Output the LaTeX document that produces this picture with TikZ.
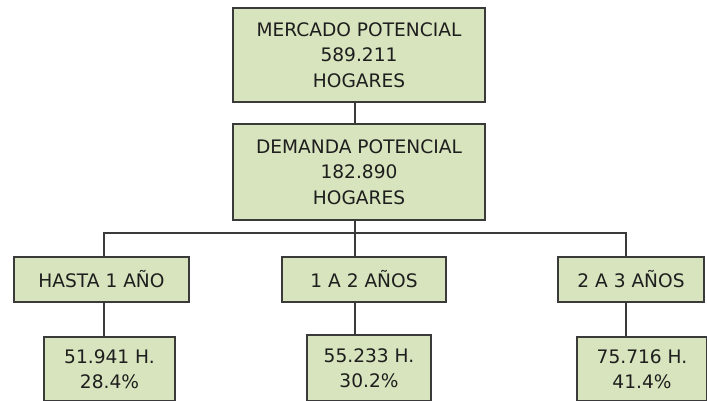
\documentclass[tikz,border=0pt]{standalone}
\usepackage{fontspec}
\setmainfont{DejaVu Sans}
\definecolor{boxfill}{HTML}{D7E4BD}
\definecolor{boxline}{HTML}{3A3A3A}
\definecolor{txt}{HTML}{1E1E1E}
\begin{document}
\begin{tikzpicture}[x=1pt,y=-1pt,
  box/.style={draw=boxline,line width=1.4pt,fill=boxfill,rectangle,inner sep=0pt,
    text=txt,align=center,font=\fontsize{18.6}{25.5}\selectfont},
  conn/.style={draw=boxline,line width=1.2pt}]
\useasboundingbox (0,0) rectangle (707,400);
\clip (0,0) rectangle (707,400);
\node[box,minimum width=252pt,minimum height=94pt] (top) at (359,55) {MERCADO POTENCIAL\\589.211\\HOGARES};
\node[box,minimum width=252pt,minimum height=96pt] (dem) at (359,172) {DEMANDA POTENCIAL\\182.890\\HOGARES};
\node[box,minimum width=175pt,minimum height=45pt] (h1) at (101.5,279.5) {HASTA 1 AÑO};
\node[box,minimum width=164pt,minimum height=45pt] (h2) at (364,279.5) {1 A 2 AÑOS};
\node[box,minimum width=146pt,minimum height=45pt] (h3) at (631,279.5) {2 A 3 AÑOS};
\node[box,minimum width=131pt,minimum height=64pt] (r1) at (109.5,369) {51.941 H.\\28.4\%};
\node[box,minimum width=124pt,minimum height=66pt] (r2) at (369,368) {55.233 H.\\30.2\%};
\node[box,minimum width=130pt,minimum height=64pt] (r3) at (642,369) {75.716 H.\\41.4\%};
\coordinate (b1) at (104,233);
\coordinate (b2) at (355,233);
\coordinate (b3) at (626,233);
\draw[conn] (b2 |- top.south) -- (b2 |- dem.north);
\draw[conn] (b2 |- dem.south) -- (b2) -- (b2 |- h2.north);
\draw[conn] (b1 |- h1.north) -- (b1) -- (b3) -- (b3 |- h3.north);
\draw[conn] (b1 |- h1.south) -- (b1 |- r1.north);
\draw[conn] (b2 |- h2.south) -- (b2 |- r2.north);
\draw[conn] (b3 |- h3.south) -- (b3 |- r3.north);
\end{tikzpicture}
\end{document}
